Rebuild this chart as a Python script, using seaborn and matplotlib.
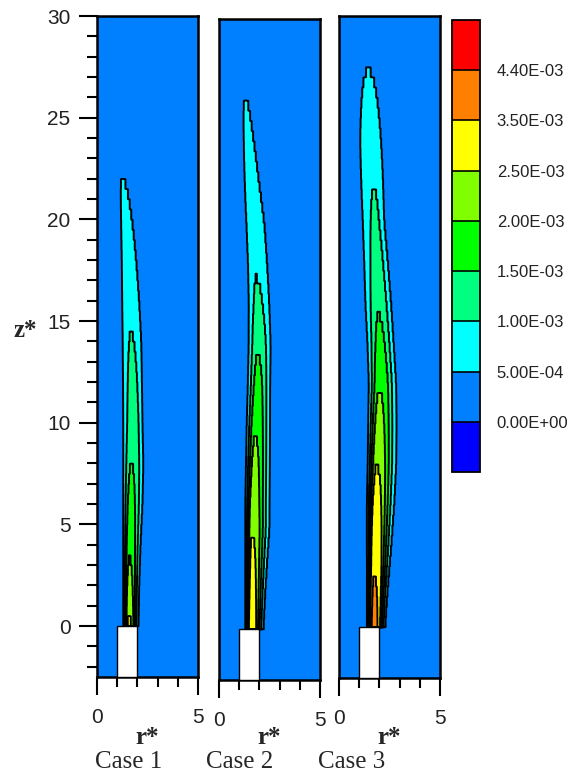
import numpy as np
import matplotlib
matplotlib.use("Agg")
import matplotlib.pyplot as plt
from matplotlib.colors import ListedColormap, BoundaryNorm
from matplotlib.cm import ScalarMappable
from matplotlib.patches import Rectangle
from matplotlib.ticker import FixedLocator, FixedFormatter
import seaborn as sns

sns.set_theme(style="white")
plt.rcParams["font.family"] = ["Liberation Sans", "DejaVu Sans"]

# contour levels and their fill colours (below-range, 7 bands, above-range)
levels = [0.0, 5.0e-4, 1.0e-3, 1.5e-3, 2.0e-3, 2.5e-3, 3.5e-3, 4.4e-3]
level_colors = ["#0000FF", "#0080FF", "#00FFFF", "#00FF80", "#00FF00",
                "#80FF00", "#FFFF00", "#FF8000", "#FF0000"]
case_names = ["Case 1", "Case 2", "Case 3"]

# plume description per case: stations in z*, peak value (x1e-3),
# radial position of the peak, inner and outer spread in r*
c1_z = [0, 1, 2, 3, 4, 6, 8, 10, 12, 14, 16, 18, 20, 22, 24]
c1_peak = [2.65, 2.45, 2.25, 2.05, 1.92, 1.70, 1.50, 1.36, 1.20, 1.03, 0.90, 0.76, 0.62, 0.50, 0.40]
c1_center = [1.56, 1.565, 1.57, 1.585, 1.60, 1.63, 1.68, 1.74, 1.72, 1.68, 1.60, 1.50, 1.36, 1.22, 1.15]
c1_inner = [0.20, 0.21, 0.22, 0.24, 0.26, 0.30, 0.36, 0.44, 0.46, 0.48, 0.46, 0.42, 0.36, 0.30, 0.28]
c1_outer = [0.40, 0.42, 0.44, 0.47, 0.49, 0.57, 0.59, 0.51, 0.53, 0.58, 0.60, 0.62, 0.68, 0.70, 0.70]

c2_z = [0, 1, 2, 3, 4, 5, 6, 8, 10, 12, 14, 16, 18, 20, 22, 24, 26, 27]
c2_peak = [3.10, 2.95, 2.80, 2.68, 2.57, 2.47, 2.38, 2.18, 1.94, 1.70, 1.43, 1.12, 0.93, 0.80, 0.69, 0.59, 0.505, 0.46]
c2_center = [1.57, 1.58, 1.59, 1.60, 1.61, 1.62, 1.64, 1.71, 1.79, 1.87, 1.90, 1.87, 1.80, 1.70, 1.57, 1.44, 1.30, 1.26]
c2_inner = [0.20, 0.21, 0.22, 0.23, 0.24, 0.25, 0.27, 0.31, 0.36, 0.40, 0.42, 0.44, 0.46, 0.50, 0.52, 0.52, 0.50, 0.50]
c2_outer = [0.50, 0.53, 0.57, 0.62, 0.67, 0.73, 0.72, 0.69, 0.65, 0.61, 0.64, 0.67, 0.70, 0.73, 0.64, 0.58, 0.52, 0.52]

c3_z = [0, 1, 2, 3, 4, 6, 8, 10, 12, 14, 16, 18, 20, 22, 24, 26, 28]
c3_peak = [4.05, 3.85, 3.62, 3.38, 3.15, 2.80, 2.48, 2.22, 1.95, 1.66, 1.42, 1.25, 1.10, 0.97, 0.80, 0.62, 0.44]
c3_center = [1.70, 1.71, 1.72, 1.73, 1.73, 1.76, 1.84, 1.91, 1.99, 1.98, 1.92, 1.86, 1.78, 1.70, 1.60, 1.50, 1.40]
c3_inner = [0.22, 0.23, 0.24, 0.25, 0.26, 0.29, 0.33, 0.38, 0.44, 0.52, 0.60, 0.64, 0.68, 0.74, 0.80, 0.80, 0.80]
c3_outer = [0.44, 0.48, 0.53, 0.60, 0.67, 0.78, 0.82, 0.80, 0.74, 0.67, 0.64, 0.57, 0.50, 0.56, 0.64, 0.70, 0.70]

cases = [
    (c1_z, c1_peak, c1_center, c1_inner, c1_outer),
    (c2_z, c2_peak, c2_center, c2_inner, c2_outer),
    (c3_z, c3_peak, c3_center, c3_inner, c3_outer),
]

nozzle_r = (1.0, 2.0)
r_lim = (0.0, 5.0)
z_lim = (-2.5, 30.0)
cell_dz = 0.5


def plume_field(zs, peak, center, inner, outer):
    r = np.linspace(r_lim[0], r_lim[1], 501)
    z = np.linspace(z_lim[0], z_lim[1], 1301)
    R, Z = np.meshgrid(r, z)
    # values are constant over each solver cell in z
    zc = (np.floor(Z / cell_dz) + 0.5) * cell_dz
    a = np.interp(zc, zs, peak) * 1e-3
    rc = np.interp(zc, zs, center)
    wl = np.interp(zc, zs, inner)
    wr = np.interp(zc, zs, outer)
    d = R - rc
    # steep shear layer toward the axis, flatter core on the outer side
    shape = np.where(d < 0, (d / wl) ** 2, (np.abs(d) / wr) ** 2.5)
    c = a * np.exp(-shape)
    c[Z < 0] = 0.0
    return R, Z, c


W, H = 577, 780
fig = plt.figure(figsize=(W / 100, H / 100), dpi=100)


def box(l, t, r, b):
    return [l / W, 1 - b / H, (r - l) / W, (b - t) / H]


panel_boxes = [box(97, 16, 198, 677), box(219, 19, 320, 680), box(339, 16, 440, 678)]

cmap = ListedColormap(sns.color_palette(level_colors[1:-1]).as_hex())
cmap.set_under(level_colors[0])
cmap.set_over(level_colors[-1])
norm = BoundaryNorm(levels, cmap.N)

serif = ["Liberation Serif", "DejaVu Serif"]

for i, (pos, case) in enumerate(zip(panel_boxes, cases)):
    ax = fig.add_axes(pos)
    R, Z, C = plume_field(*case)
    ax.contourf(R, Z, C, levels=levels, cmap=cmap, norm=norm, extend="max")
    ax.contour(R, Z, C, levels=levels[1:], colors="black", linewidths=1.4)
    ax.add_patch(Rectangle((nozzle_r[0], z_lim[0]), nozzle_r[1] - nozzle_r[0], -z_lim[0],
                           facecolor="white", edgecolor="black", lw=1.0, zorder=5))
    ax.set_xlim(*r_lim)
    ax.set_ylim(*z_lim)
    for s in ax.spines.values():
        s.set_visible(True)
        s.set_linewidth(1.8)
        s.set_color("black")

    ax.xaxis.set_major_locator(FixedLocator([0, 5]))
    ax.xaxis.set_minor_locator(FixedLocator([1, 2, 3, 4]))
    ax.tick_params(axis="x", which="major", direction="out", length=13, width=1.5,
                   color="black", labelsize=15, pad=9, labelcolor="#222222", bottom=True)
    ax.tick_params(axis="x", which="minor", direction="out", length=7.5, width=1.5,
                   color="black", bottom=True)
    if i == 0:
        ax.yaxis.set_major_locator(FixedLocator([0, 5, 10, 15, 20, 25, 30]))
        ax.yaxis.set_minor_locator(FixedLocator([-2, -1] + [v for v in range(1, 30) if v % 5]))
        ax.tick_params(axis="y", which="major", direction="out", length=13, width=1.5,
                       color="black", labelsize=15, pad=6, labelcolor="#222222", left=True)
        ax.tick_params(axis="y", which="minor", direction="out", length=7, width=1.5,
                       color="black", left=True)
    else:
        ax.set_yticks([])

    cx = pos[0] + pos[2] / 2
    fig.text(cx, 1 - 738 / H, "r*", ha="center", va="center", fontsize=18,
             fontweight="bold", family=serif)

for name, xc in zip(case_names, [129, 240, 352]):
    fig.text(xc / W, 1 - 762 / H, name, ha="center", va="center", fontsize=18,
             family=serif)

fig.text(25 / W, 1 - 330 / H, "z*", ha="center", va="center", fontsize=18,
         fontweight="bold", family=serif)

cax = fig.add_axes(box(452, 20, 480, 472))
sm = ScalarMappable(norm=norm, cmap=cmap)
cb = fig.colorbar(sm, cax=cax, ticks=levels, spacing="uniform", extend="both",
                  extendrect=True, extendfrac=1 / 7, drawedges=True)
cb.outline.set_linewidth(1.3)
cb.outline.set_color("black")
cb.dividers.set_color("black")
cb.dividers.set_linewidth(1.2)
cb.ax.yaxis.set_major_formatter(FixedFormatter(["%.2E" % v for v in levels]))
cb.ax.tick_params(length=0, labelsize=12, pad=12, labelcolor="#222222")

fig.savefig("out.png", dpi=100)
